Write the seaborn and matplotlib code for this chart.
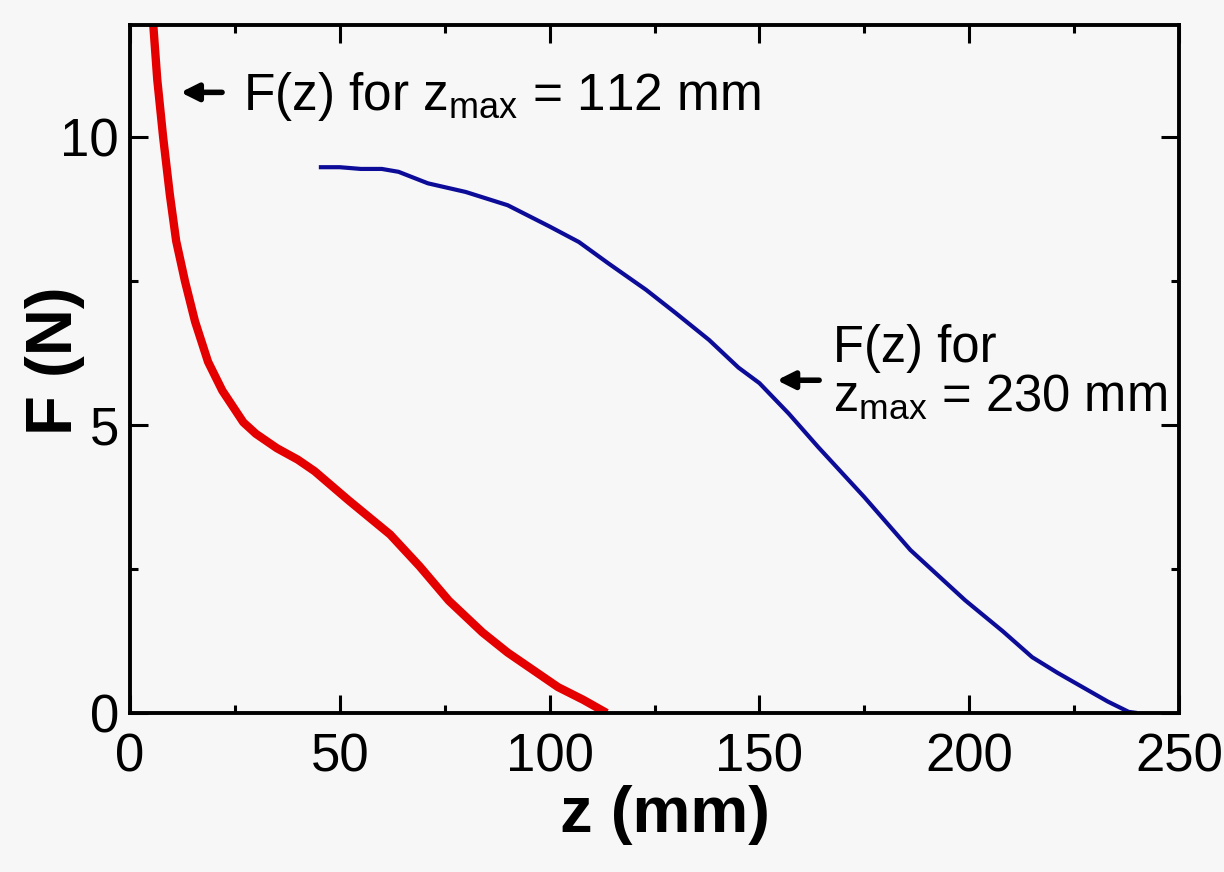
import matplotlib
matplotlib.use("Agg")
import matplotlib.pyplot as plt
import seaborn as sns
import numpy as np
import pandas as pd

# ---- data ----
z_112 = [5.0, 5.5, 6.5, 7.9, 9.5, 11.0, 13.1, 15.5, 18.6, 22.0, 27.0, 30.0, 35.0, 40.0,
         44.0, 48.0, 52.0, 57.0, 62.0, 69.0, 76.0, 84.0, 90.0, 95.0, 102.0, 108.0, 113.6]
F_112 = [12.2, 12.0, 11.0, 10.0, 9.0, 8.2, 7.5, 6.8, 6.1, 5.6, 5.05, 4.85, 4.6, 4.4,
         4.2, 3.95, 3.7, 3.4, 3.1, 2.55, 1.95, 1.4, 1.05, 0.8, 0.45, 0.23, 0.0]

z_230 = [45, 50, 55, 60, 64, 71, 80, 90, 100, 107, 114, 123, 130, 138, 145, 150, 157,
         164, 175, 186, 199, 208, 215, 221, 227, 233, 238, 240]
F_230 = [9.48, 9.48, 9.45, 9.45, 9.4, 9.2, 9.05, 8.82, 8.45, 8.18, 7.81, 7.35, 6.95,
         6.48, 6.0, 5.73, 5.2, 4.62, 3.75, 2.83, 1.96, 1.42, 0.97, 0.7, 0.45, 0.2, 0.02, 0.0]

x_ticks = [0, 50, 100, 150, 200, 250]
y_ticks = [0, 5, 10]
x_label = "z (mm)"
y_label = "F (N)"
note_112 = r"F(z) for z$_{\mathrm{max}}$ = 112 mm"
note_230_line1 = "F(z) for"
note_230_line2 = r"z$_{\mathrm{max}}$ = 230 mm"

df112 = pd.DataFrame({"z": z_112, "F": F_112})
df230 = pd.DataFrame({"z": z_230, "F": F_230})

# ---- style ----
sns.set_style("ticks")
plt.rcParams["font.family"] = ["Liberation Sans", "DejaVu Sans"]
plt.rcParams["mathtext.fontset"] = "custom"
plt.rcParams["mathtext.rm"] = "Liberation Sans"
plt.rcParams["mathtext.it"] = "Liberation Sans"
plt.rcParams["mathtext.bf"] = "Liberation Sans:bold"
for k in ["text.color", "axes.labelcolor", "xtick.color", "ytick.color",
          "xtick.labelcolor", "ytick.labelcolor", "axes.edgecolor"]:
    plt.rcParams[k] = "black"

bg = "#f7f7f7"
fig = plt.figure(figsize=(12.24, 8.72), dpi=100, facecolor=bg)
ax = fig.add_axes([130 / 1224, 1 - 713 / 872, (1179 - 130) / 1224, (713 - 25) / 872])
ax.set_facecolor(bg)

sns.lineplot(data=df112, x="z", y="F", sort=False, estimator=None, ax=ax,
             color="#e40000", linewidth=6.0, solid_capstyle="butt")
sns.lineplot(data=df230, x="z", y="F", sort=False, estimator=None, ax=ax,
             color="#0c0c98", linewidth=3.0, solid_capstyle="butt")

ax.set_xlim(0, 250)
ax.set_ylim(0, 11.95)
ax.set_xticks(x_ticks)
ax.set_yticks(y_ticks)
ax.set_xticks([25, 75, 125, 175, 225], minor=True)
ax.set_yticks([2.5, 7.5], minor=True)
ax.set_xticklabels([str(t) for t in x_ticks])
ax.set_yticklabels([str(t) for t in y_ticks])

for s in ax.spines.values():
    s.set_visible(True)
    s.set_linewidth(2.8)
    s.set_color("black")

ax.tick_params(which="major", direction="in", length=13, width=2.2,
               top=True, right=True, labelsize=38, color="black", labelcolor="black")
ax.tick_params(which="minor", direction="in", length=6, width=2.2,
               top=True, right=True, color="black")
ax.tick_params(axis="x", which="major", pad=14)
ax.tick_params(axis="y", which="major", pad=8)

ax.set_xlabel(x_label, fontsize=47, fontweight="bold", color="black")
ax.set_ylabel(y_label, fontsize=47, fontweight="bold", color="black")
ax.xaxis.set_label_coords(0.51, -0.105)
ax.yaxis.set_label_coords(-0.043, 0.512)

# ---- annotations ----
arrow_kw = dict(arrowstyle="-|>", color="black", lw=4.0, mutation_scale=26)
ax.annotate("", xy=(11.4, 10.78), xytext=(22.6, 10.78), arrowprops=arrow_kw)
ax.text(26.9, 10.47, note_112, fontsize=37, ha="left", va="baseline", color="black")

ax.annotate("", xy=(153.5, 5.78), xytext=(164.9, 5.78), arrowprops=arrow_kw)
ax.text(167.5, 6.09, note_230_line1, fontsize=36.5, ha="left", va="baseline", color="black")
ax.text(167.5, 5.26, note_230_line2, fontsize=36.5, ha="left", va="baseline", color="black")

fig.savefig("out.png", dpi=100, facecolor=bg)
